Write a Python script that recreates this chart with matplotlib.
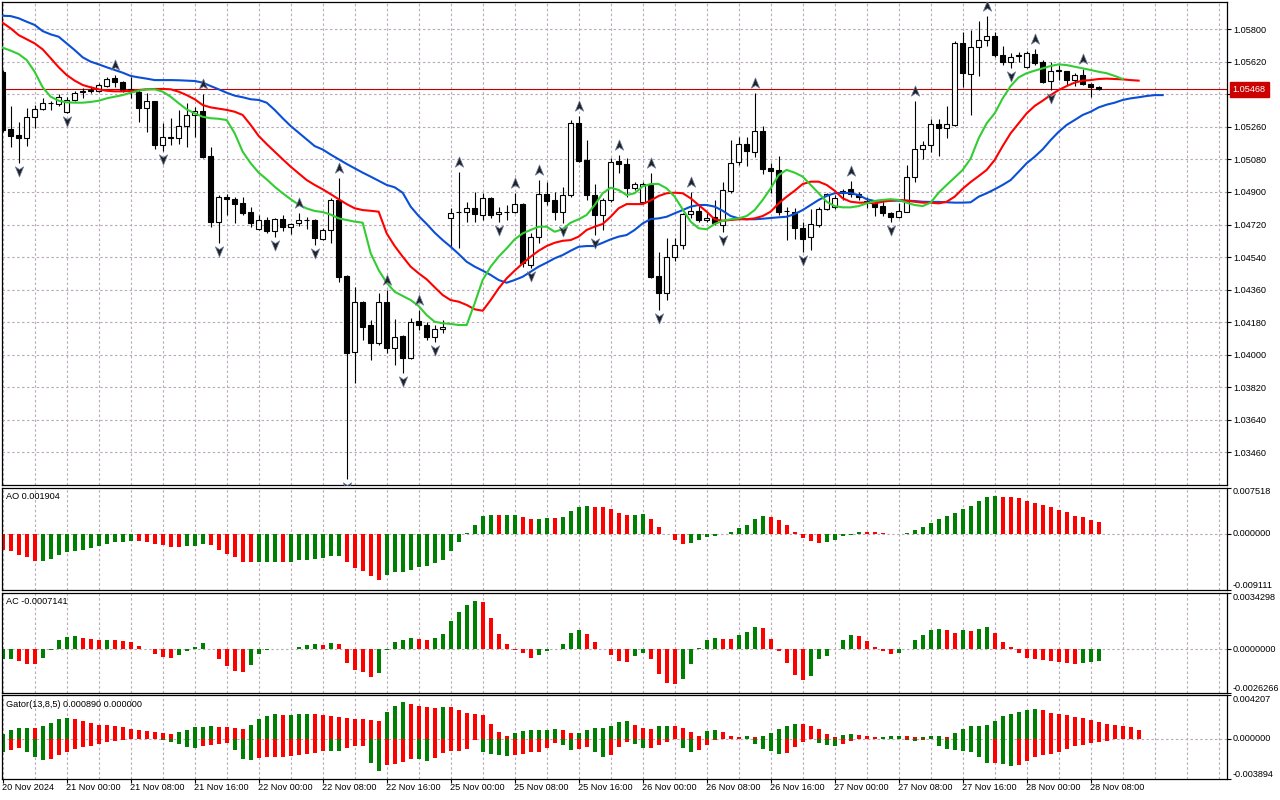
import numpy as np
import matplotlib
matplotlib.use("Agg")
import matplotlib.pyplot as plt
from matplotlib.path import Path
from matplotlib.transforms import offset_copy, blended_transform_factory

plt.rcParams['font.family'] = ['Liberation Sans', 'DejaVu Sans']
plt.rcParams['font.size'] = 6.6

# EURUSD H1, 20 Nov 16:00 .. 28 Nov 09:00 (one entry per bar)
opens = [1.05564, 1.05247, 1.05215, 1.05197, 1.05316, 1.05357, 1.05391, 1.05387, 1.05344, 1.05409,
         1.05455, 1.05459, 1.05460, 1.05486, 1.05529, 1.05507, 1.05468, 1.05455, 1.05363, 1.05403,
         1.05160, 1.05200, 1.05200, 1.05267, 1.05326, 1.05348, 1.05099, 1.04736, 1.04870, 1.04861,
         1.04837, 1.04788, 1.04694, 1.04745, 1.04686, 1.04749, 1.04708, 1.04727, 1.04745, 1.04745,
         1.04638, 1.04690, 1.04856, 1.04435, 1.04013, 1.04290, 1.04164, 1.04066, 1.04290, 1.04035,
         1.04103, 1.03980, 1.04186, 1.04164, 1.04099, 1.04140, 1.04754, 1.04788, 1.04788, 1.04810,
         1.04773, 1.04865, 1.04778, 1.04788, 1.04788, 1.04833, 1.04496, 1.04649, 1.04887, 1.04856,
         1.04791, 1.04883, 1.05280, 1.05077, 1.04883, 1.04773, 1.04856, 1.05071, 1.05055, 1.04920,
         1.04846, 1.04939, 1.04435, 1.04343, 1.04539, 1.04605, 1.04776, 1.04795, 1.04745, 1.04760,
         1.04717, 1.04907, 1.05067, 1.05165, 1.05123, 1.05237, 1.05031, 1.05022, 1.04795, 1.04791,
         1.04699, 1.04649, 1.04717, 1.04804, 1.04819, 1.04893, 1.04915, 1.04887, 1.04850, 1.04837,
         1.04822, 1.04782, 1.04763, 1.04791, 1.04981, 1.05136, 1.05158, 1.05274, 1.05256, 1.05271,
         1.05726, 1.05553, 1.05700, 1.05741, 1.05763, 1.05658, 1.05621, 1.05652, 1.05593, 1.05663,
         1.05619, 1.05514, 1.05569, 1.05571, 1.05519, 1.05545, 1.05497, 1.05481]
highs = [1.05575, 1.05376, 1.05289, 1.05363, 1.05381, 1.05418, 1.05403, 1.05440, 1.05424, 1.05460,
         1.05474, 1.05486, 1.05501, 1.05538, 1.05547, 1.05516, 1.05538, 1.05468, 1.05446, 1.05405,
         1.05283, 1.05308, 1.05354, 1.05391, 1.05368, 1.05442, 1.05151, 1.04883, 1.04889, 1.04874,
         1.04874, 1.04819, 1.04773, 1.04763, 1.04754, 1.04773, 1.04730, 1.04782, 1.04760, 1.04749,
         1.04699, 1.04865, 1.04976, 1.04439, 1.04376, 1.04297, 1.04192, 1.04340, 1.04358, 1.04196,
         1.04109, 1.04201, 1.04247, 1.04182, 1.04164, 1.04192, 1.04810, 1.05012, 1.04846, 1.04902,
         1.04893, 1.04874, 1.04819, 1.04828, 1.04896, 1.04837, 1.04671, 1.04966, 1.04957, 1.04902,
         1.04929, 1.05298, 1.05320, 1.05187, 1.04944, 1.04865, 1.05086, 1.05104, 1.05086, 1.04957,
         1.04957, 1.05003, 1.04570, 1.04644, 1.04644, 1.04782, 1.04902, 1.04822, 1.04782, 1.04856,
         1.04957, 1.05187, 1.05206, 1.05206, 1.05446, 1.05265, 1.05059, 1.05099, 1.04819, 1.04810,
         1.04736, 1.04804, 1.04819, 1.04893, 1.04883, 1.04915, 1.04962, 1.04902, 1.04874, 1.04856,
         1.04852, 1.04791, 1.04837, 1.05049, 1.05405, 1.05184, 1.05305, 1.05305, 1.05376, 1.05737,
         1.05787, 1.05796, 1.05846, 1.05874, 1.05787, 1.05708, 1.05667, 1.05676, 1.05680, 1.05689,
         1.05630, 1.05621, 1.05602, 1.05572, 1.05560, 1.05580, 1.05501, 1.05485]
lows = [1.05232, 1.05151, 1.05059, 1.05154, 1.05252, 1.05354, 1.05354, 1.05376, 1.05335, 1.05405,
        1.05418, 1.05446, 1.05455, 1.05479, 1.05482, 1.05455, 1.05418, 1.05289, 1.05233, 1.05138,
        1.05128, 1.05160, 1.05165, 1.05147, 1.05206, 1.05086, 1.04708, 1.04616, 1.04773, 1.04727,
        1.04773, 1.04708, 1.04690, 1.04671, 1.04653, 1.04686, 1.04667, 1.04712, 1.04694, 1.04607,
        1.04634, 1.04616, 1.04404, 1.03312, 1.03842, 1.04081, 1.03971, 1.04054, 1.04008, 1.03943,
        1.03900, 1.03974, 1.04136, 1.04081, 1.04072, 1.04118, 1.04588, 1.04588, 1.04736, 1.04736,
        1.04745, 1.04754, 1.04736, 1.04745, 1.04782, 1.04487, 1.04478, 1.04616, 1.04828, 1.04745,
        1.04730, 1.04874, 1.05067, 1.04856, 1.04662, 1.04690, 1.04846, 1.05007, 1.04874, 1.04911,
        1.04837, 1.04422, 1.04247, 1.04302, 1.04520, 1.04583, 1.04754, 1.04736, 1.04736, 1.04717,
        1.04680, 1.04893, 1.05049, 1.05045, 1.05095, 1.04999, 1.04893, 1.04773, 1.04634, 1.04638,
        1.04570, 1.04579, 1.04708, 1.04800, 1.04804, 1.04856, 1.04870, 1.04856, 1.04810, 1.04767,
        1.04767, 1.04736, 1.04754, 1.04788, 1.04957, 1.05081, 1.05121, 1.05099, 1.05197, 1.05265,
        1.05479, 1.05326, 1.05542, 1.05709, 1.05648, 1.05602, 1.05584, 1.05621, 1.05586, 1.05602,
        1.05505, 1.05464, 1.05519, 1.05492, 1.05486, 1.05492, 1.05424, 1.05466]
closes = [1.05243, 1.05211, 1.05197, 1.05316, 1.05357, 1.05391, 1.05394, 1.05427, 1.05409, 1.05449,
          1.05460, 1.05462, 1.05490, 1.05527, 1.05507, 1.05460, 1.05459, 1.05363, 1.05403, 1.05160,
          1.05206, 1.05204, 1.05267, 1.05326, 1.05348, 1.05095, 1.04736, 1.04870, 1.04859, 1.04833,
          1.04782, 1.04727, 1.04745, 1.04686, 1.04749, 1.04708, 1.04723, 1.04745, 1.04743, 1.04644,
          1.04690, 1.04856, 1.04431, 1.04011, 1.04290, 1.04155, 1.04066, 1.04290, 1.04035, 1.04099,
          1.03980, 1.04182, 1.04164, 1.04099, 1.04140, 1.04151, 1.04782, 1.04789, 1.04810, 1.04776,
          1.04865, 1.04773, 1.04791, 1.04789, 1.04833, 1.04505, 1.04653, 1.04887, 1.04852, 1.04788,
          1.04883, 1.05280, 1.05073, 1.04883, 1.04773, 1.04856, 1.05067, 1.05055, 1.04920, 1.04944,
          1.04944, 1.04431, 1.04343, 1.04539, 1.04605, 1.04776, 1.04795, 1.04745, 1.04758, 1.04727,
          1.04911, 1.05062, 1.05164, 1.05128, 1.05237, 1.05027, 1.05018, 1.04788, 1.04793, 1.04699,
          1.04638, 1.04721, 1.04806, 1.04887, 1.04865, 1.04907, 1.04889, 1.04870, 1.04846, 1.04819,
          1.04782, 1.04763, 1.04795, 1.04981, 1.05136, 1.05158, 1.05274, 1.05256, 1.05274, 1.05726,
          1.05560, 1.05700, 1.05741, 1.05763, 1.05658, 1.05621, 1.05648, 1.05656, 1.05667, 1.05612,
          1.05510, 1.05571, 1.05573, 1.05519, 1.05545, 1.05497, 1.05479, 1.05468]

# Alligator lines (already shifted forward: jaw 8, teeth 5, lips 3 bars)
jaw = [1.05875, 1.05873, 1.05861, 1.05842, 1.05824, 1.05790, 1.05772, 1.05759, 1.05722, 1.05685,
       1.05645, 1.05621, 1.05606, 1.05590, 1.05575, 1.05560, 1.05542, 1.05534, 1.05527, 1.05519,
       1.05519, 1.05519, 1.05518, 1.05516, 1.05514, 1.05505, 1.05486, 1.05468, 1.05449, 1.05433,
       1.05424, 1.05413, 1.05409, 1.05394, 1.05354, 1.05308, 1.05265, 1.05228, 1.05191, 1.05154,
       1.05135, 1.05107, 1.05081, 1.05055, 1.05031, 1.05007, 1.04985, 1.04962, 1.04939, 1.04926,
       1.04896, 1.04819, 1.04767, 1.04723, 1.04675, 1.04634, 1.04597, 1.04557, 1.04514, 1.04487,
       1.04465, 1.04441, 1.04413, 1.04398, 1.04413, 1.04431, 1.04459, 1.04487, 1.04509, 1.04533,
       1.04551, 1.04575, 1.04597, 1.04601, 1.04601, 1.04619, 1.04638, 1.04653, 1.04662, 1.04690,
       1.04726, 1.04750, 1.04754, 1.04763, 1.04782, 1.04800, 1.04819, 1.04828, 1.04828, 1.04819,
       1.04796, 1.04767, 1.04754, 1.04749, 1.04749, 1.04752, 1.04756, 1.04760, 1.04763, 1.04778,
       1.04800, 1.04828, 1.04856, 1.04878, 1.04893, 1.04896, 1.04893, 1.04883, 1.04860, 1.04850,
       1.04852, 1.04852, 1.04852, 1.04852, 1.04850, 1.04846, 1.04845, 1.04845, 1.04843, 1.04841,
       1.04841, 1.04843, 1.04874, 1.04893, 1.04915, 1.04939, 1.04966, 1.05012, 1.05059, 1.05095,
       1.05136, 1.05187, 1.05233, 1.05271, 1.05298, 1.05326, 1.05344, 1.05368, 1.05383, 1.05394,
       1.05409, 1.05418, 1.05424, 1.05431, 1.05436, 1.05436]
teeth = [1.05836, 1.05805, 1.05768, 1.05745, 1.05722, 1.05689, 1.05640, 1.05590, 1.05547, 1.05516,
         1.05492, 1.05479, 1.05468, 1.05460, 1.05457, 1.05457, 1.05459, 1.05464, 1.05468, 1.05470,
         1.05470, 1.05468, 1.05455, 1.05436, 1.05413, 1.05381, 1.05368, 1.05361, 1.05354, 1.05344,
         1.05326, 1.05271, 1.05210, 1.05165, 1.05123, 1.05081, 1.05040, 1.05003, 1.04966, 1.04939,
         1.04915, 1.04888, 1.04860, 1.04833, 1.04810, 1.04800, 1.04796, 1.04791, 1.04671, 1.04601,
         1.04542, 1.04487, 1.04450, 1.04417, 1.04373, 1.04330, 1.04302, 1.04293, 1.04275, 1.04251,
         1.04243, 1.04302, 1.04367, 1.04422, 1.04465, 1.04505, 1.04542, 1.04575, 1.04601, 1.04619,
         1.04630, 1.04634, 1.04653, 1.04690, 1.04708, 1.04723, 1.04763, 1.04810, 1.04833, 1.04833,
         1.04833, 1.04853, 1.04878, 1.04893, 1.04896, 1.04893, 1.04865, 1.04828, 1.04791, 1.04749,
         1.04741, 1.04745, 1.04749, 1.04749, 1.04754, 1.04767, 1.04791, 1.04837, 1.04874, 1.04907,
         1.04944, 1.04957, 1.04957, 1.04939, 1.04907, 1.04865, 1.04846, 1.04841, 1.04841, 1.04837,
         1.04846, 1.04852, 1.04856, 1.04852, 1.04846, 1.04841, 1.04841, 1.04837, 1.04846, 1.04874,
         1.04918, 1.04955, 1.04988, 1.05022, 1.05077, 1.05154, 1.05225, 1.05280, 1.05335, 1.05376,
         1.05405, 1.05436, 1.05464, 1.05486, 1.05505, 1.05516, 1.05519, 1.05525, 1.05527, 1.05525,
         1.05523, 1.05519, 1.05516]
lips = [1.05698, 1.05682, 1.05663, 1.05630, 1.05565, 1.05479, 1.05427, 1.05405, 1.05396, 1.05394,
        1.05394, 1.05398, 1.05405, 1.05418, 1.05427, 1.05436, 1.05449, 1.05460, 1.05468, 1.05468,
        1.05455, 1.05427, 1.05391, 1.05357, 1.05335, 1.05316, 1.05308, 1.05305, 1.05298, 1.05225,
        1.05123, 1.05059, 1.05007, 1.04970, 1.04929, 1.04893, 1.04860, 1.04830, 1.04809, 1.04795,
        1.04789, 1.04775, 1.04754, 1.04745, 1.04736, 1.04730, 1.04561, 1.04468, 1.04398, 1.04348,
        1.04325, 1.04302, 1.04269, 1.04219, 1.04182, 1.04174, 1.04170, 1.04164, 1.04164, 1.04284,
        1.04413, 1.04487, 1.04542, 1.04588, 1.04638, 1.04671, 1.04690, 1.04708, 1.04708, 1.04680,
        1.04694, 1.04730, 1.04749, 1.04773, 1.04828, 1.04893, 1.04924, 1.04911, 1.04883, 1.04893,
        1.04931, 1.04944, 1.04944, 1.04920, 1.04874, 1.04804, 1.04736, 1.04699, 1.04694, 1.04723,
        1.04741, 1.04749, 1.04754, 1.04767, 1.04800, 1.04856, 1.04920, 1.04994, 1.05022, 1.05007,
        1.04985, 1.04939, 1.04893, 1.04846, 1.04822, 1.04815, 1.04815, 1.04822, 1.04837, 1.04850,
        1.04856, 1.04860, 1.04856, 1.04841, 1.04828, 1.04822, 1.04841, 1.04896, 1.04939, 1.04980,
        1.05022, 1.05085, 1.05197, 1.05280, 1.05335, 1.05418, 1.05486, 1.05534, 1.05557, 1.05571,
        1.05584, 1.05597, 1.05606, 1.05602, 1.05593, 1.05584, 1.05575, 1.05565, 1.05557, 1.05542,
        1.05525]

# bars that carry a fractal mark
fractal_up = [14, 25, 37, 42, 48, 52, 57, 64, 67, 72, 77, 81, 86, 94, 106, 114, 123, 129, 135]
fractal_down = [2, 8, 20, 27, 34, 39, 43, 50, 54, 62, 66, 70, 74, 82, 90, 100, 111, 126, 131]

ao = [-0.00258, -0.00285, -0.00338, -0.00381, -0.00436, -0.00434, -0.00403, -0.00338, -0.00301, -0.00274,
      -0.00258, -0.00226, -0.00193, -0.00161, -0.00140, -0.00129, -0.00113, -0.00115, -0.00129, -0.00161,
      -0.00177, -0.00209, -0.00211, -0.00204, -0.00199, -0.00161, -0.00188, -0.00258, -0.00322, -0.00381,
      -0.00462, -0.00464, -0.00451, -0.00450, -0.00449, -0.00450, -0.00449, -0.00430, -0.00419, -0.00403,
      -0.00387, -0.00354, -0.00353, -0.00462, -0.00548, -0.00607, -0.00687, -0.00752, -0.00661, -0.00623,
      -0.00612, -0.00580, -0.00542, -0.00516, -0.00473, -0.00419, -0.00274, -0.00140, 0.00011, 0.00145,
      0.00295, 0.00306, 0.00304, 0.00306, 0.00307, 0.00274, 0.00242, 0.00247, 0.00258, 0.00256,
      0.00274, 0.00371, 0.00435, 0.00451, 0.00435, 0.00433, 0.00403, 0.00338, 0.00306, 0.00311,
      0.00322, 0.00242, 0.00113, 0.00005, -0.00097, -0.00161, -0.00145, -0.00097, -0.00048, -0.00027,
      -0.00005, 0.00032, 0.00097, 0.00145, 0.00242, 0.00295, 0.00274, 0.00226, 0.00145, 0.00032,
      -0.00064, -0.00113, -0.00145, -0.00129, -0.00097, -0.00043, -0.00015, 0.00032, 0.00030, 0.00029,
      0.00016, 0.00005, 0.00001, 0.00011, 0.00064, 0.00113, 0.00183, 0.00242, 0.00290, 0.00338,
      0.00403, 0.00451, 0.00532, 0.00596, 0.00612, 0.00596, 0.00594, 0.00580, 0.00532, 0.00499,
      0.00467, 0.00435, 0.00387, 0.00354, 0.00290, 0.00274, 0.00226, 0.001904]

ac = [-0.000605, -0.000585, -0.000706, -0.000888, -0.000898, -0.000505, -0.000020, 0.000545, 0.000747, 0.000807,
      0.000666, 0.000605, 0.000545, 0.000551, 0.000541, 0.000484, 0.000424, 0.000182, 0.000020, -0.000262,
      -0.000444, -0.000505, -0.000323, -0.000081, 0.000141, 0.000363, -0.000010, -0.000565, -0.000989, -0.001292,
      -0.001352, -0.000928, -0.000262, -0.000020, 0.000040, 0.000030, -0.000010, 0.000121, 0.000262, 0.000323,
      0.000262, 0.000383, 0.000323, -0.000827, -0.001251, -0.001372, -0.001675, -0.001433, -0.000020, 0.000444,
      0.000565, 0.000666, 0.000626, 0.000545, 0.000686, 0.000928, 0.001715, 0.002260, 0.002684, 0.002926,
      0.002866, 0.001897, 0.000928, 0.000323, -0.000020, -0.000202, -0.000505, -0.000323, -0.000081, 0.000020,
      0.000323, 0.000989, 0.001170, 0.000928, 0.000444, 0.000020, -0.000323, -0.000686, -0.000747, -0.000383,
      -0.000202, -0.000565, -0.001473, -0.002018, -0.002079, -0.001776, -0.000868, 0.000061, 0.000565, 0.000686,
      0.000626, 0.000620, 0.000868, 0.001049, 0.001352, 0.001292, 0.000626, -0.000081, -0.000807, -0.001534,
      -0.001836, -0.001594, -0.000605, -0.000383, 0.000040, 0.000565, 0.000868, 0.000807, 0.000505, 0.000141,
      -0.000081, -0.000262, -0.000242, 0.000010, 0.000565, 0.000868, 0.001170, 0.001231, 0.001170, 0.000989,
      0.001170, 0.001110, 0.001231, 0.001352, 0.000989, 0.000444, 0.000141, -0.000202, -0.000505, -0.000585,
      -0.000626, -0.000706, -0.000747, -0.000807, -0.000868, -0.000807, -0.000747, -0.0007141]

# Gator: upper = |jaw - teeth|, lower = |teeth - lips| (drawn below zero)
gator_upper = [0.000449, 0.000803, 0.000995, 0.001011, 0.000995, 0.001220, 0.001573, 0.001958, 0.002054, 0.001958,
               0.001766, 0.001573, 0.001380, 0.001364, 0.001188, 0.001091, 0.000899, 0.000803, 0.000706, 0.000610,
               0.000514, 0.000498, 0.000610, 0.000803, 0.001091, 0.001107, 0.001188, 0.001172, 0.001091, 0.000995,
               0.000979, 0.001380, 0.001958, 0.002247, 0.002440, 0.002327, 0.002343, 0.002359, 0.002440, 0.002424,
               0.002343, 0.002247, 0.002151, 0.002054, 0.001958, 0.001942, 0.001862, 0.001766, 0.002632, 0.003210,
               0.003595, 0.003403, 0.003210, 0.003114, 0.003017, 0.003114, 0.003098, 0.002825, 0.002536, 0.002440,
               0.002343, 0.001477, 0.000610, 0.000225, 0.000514, 0.000706, 0.000803, 0.000819, 0.000835, 0.000899,
               0.000803, 0.000514, 0.000530, 0.000803, 0.000995, 0.001011, 0.001284, 0.001669, 0.001766, 0.001380,
               0.000995, 0.000899, 0.001188, 0.001284, 0.001188, 0.000995, 0.000610, 0.000225, 0.000706, 0.000803,
               0.000610, 0.000225, 0.000128, 0.000225, 0.000128, 0.000225, 0.000514, 0.000899, 0.001188, 0.001477,
               0.001461, 0.001284, 0.000899, 0.000417, 0.000128, 0.000321, 0.000417, 0.000401, 0.000225, 0.000128,
               0.000144, 0.000225, 0.000241, 0.000225, 0.000128, 0.000144, 0.000225, 0.000241, 0.000128, 0.000514,
               0.000899, 0.001188, 0.001204, 0.001380, 0.001766, 0.002247, 0.002440, 0.002632, 0.002825, 0.002921,
               0.002825, 0.002536, 0.002440, 0.002343, 0.002151, 0.002054, 0.001862, 0.001669, 0.001477, 0.001380,
               0.001284, 0.001091, 0.000890]
gator_lower = [0.001284, 0.001124, 0.000931, 0.001316, 0.001798, 0.002087, 0.001990, 0.001605, 0.001316, 0.001027,
               0.000835, 0.000738, 0.000546, 0.000353, 0.000257, 0.000161, 0.000064, 0.000032, 0.000016, 0.000010,
               0.000161, 0.000353, 0.000546, 0.000835, 0.000851, 0.000738, 0.000642, 0.000546, 0.000449, 0.001124,
               0.001990, 0.002087, 0.001894, 0.001798, 0.001782, 0.001766, 0.001701, 0.001605, 0.001509, 0.001412,
               0.001156, 0.001172, 0.001188, 0.000931, 0.000738, 0.000722, 0.002375, 0.003146, 0.002568, 0.002440,
               0.002247, 0.001990, 0.002006, 0.002183, 0.001894, 0.001412, 0.001220, 0.001204, 0.001027, 0.000161,
               0.001316, 0.001509, 0.001605, 0.001701, 0.001605, 0.001509, 0.001316, 0.001300, 0.000931, 0.000449,
               0.000642, 0.001124, 0.001027, 0.000835, 0.001316, 0.001798, 0.001605, 0.000835, 0.000353, 0.000546,
               0.000931, 0.000915, 0.000642, 0.000353, 0.000016, 0.000931, 0.001316, 0.001124, 0.000642, 0.000161,
               0.000010, 0.000006, 0.000003, 0.000002, 0.000546, 0.001027, 0.001220, 0.001509, 0.001412, 0.000835,
               0.000353, 0.000016, 0.000449, 0.000642, 0.000738, 0.000546, 0.000257, 0.000048, 0.000039, 0.000032,
               0.000026, 0.000019, 0.000010, 0.000161, 0.000177, 0.000161, 0.000064, 0.000738, 0.001027, 0.001124,
               0.001220, 0.001316, 0.001798, 0.002375, 0.002359, 0.002408, 0.002664, 0.002568, 0.002183, 0.001798,
               0.001605, 0.001509, 0.001316, 0.001027, 0.000738, 0.000642, 0.000449, 0.000353, 0.000257, 0.000064,
               0.000000]

price_ticks = [1.03460, 1.03640, 1.03820, 1.04000, 1.04180, 1.04360, 1.04540,
               1.04720, 1.04900, 1.05080, 1.05260, 1.05440, 1.05620, 1.05800]
time_labels = ["20 Nov 2024", "21 Nov 00:00", "21 Nov 08:00", "21 Nov 16:00", "22 Nov 00:00",
               "22 Nov 08:00", "22 Nov 16:00", "25 Nov 00:00", "25 Nov 08:00", "25 Nov 16:00",
               "26 Nov 00:00", "26 Nov 08:00", "26 Nov 16:00", "27 Nov 00:00", "27 Nov 08:00",
               "27 Nov 16:00", "28 Nov 00:00", "28 Nov 08:00"]
label_every = 8   # one time label per 8 bars

GREEN = '#008000'
RED = '#ff0000'
GRID = '#b9a9b9'
DASH = (0, (2.2, 2.2))


def trend_colors(vals, first):
    # green when the value grows against the bar before, red otherwise
    cols = [first]
    for a, b in zip(vals[:-1], vals[1:]):
        cols.append(GREEN if b > a else RED)
    return cols


W, H = 1280, 800
fig = plt.figure(figsize=(W / 100, H / 100), dpi=100)


def px_axes(left, top, right, bottom):
    return fig.add_axes([left / W, 1 - bottom / H, (right - left) / W, (bottom - top) / H])


ax = px_axes(2, 2, 1227.3, 485)
ax_ao = px_axes(2, 487.5, 1227.3, 590)
ax_ac = px_axes(2, 592.7, 1227.3, 692.7)
ax_gt = px_axes(2, 695.3, 1227.3, 779)
all_axes = [ax, ax_ao, ax_ac, ax_gt]

x_lo, x_hi = -0.084, 153.08
for a in all_axes:
    a.set_xlim(x_lo, x_hi)
    for s in a.spines.values():
        s.set_linewidth(0.9)
        s.set_color('black')
    for g in range(0, 153, 4):
        a.axvline(g, color=GRID, lw=0.8, ls=DASH, zorder=0)
    a.set_xticks([])

# ---- price window ----
x = np.arange(len(closes))
o = np.array(opens)
c = np.array(closes)
ax.set_ylim(1.03279, 1.05951)
for p in price_ticks:
    ax.axhline(p, color=GRID, lw=0.8, ls=DASH, zorder=0)

ax.vlines(x, lows, highs, color='black', lw=0.8, zorder=3)
body_lo = np.minimum(o, c)
body_h = np.abs(c - o)
fills = ['white' if cc >= oo else 'black' for oo, cc in zip(o, c)]
ax.bar(x, body_h, bottom=body_lo, width=0.6, color=fills, edgecolor='black',
       linewidth=0.8, zorder=4)

ax.plot(np.arange(len(jaw)), jaw, color='#0b4fd6', lw=1.5, zorder=5)
ax.plot(np.arange(len(teeth)), teeth, color='#ff0000', lw=1.5, zorder=5)
ax.plot(np.arange(len(lips)), lips, color='#32cd32', lw=1.5, zorder=5)

last = closes[-1]
ax.axhline(last, color='#c00000', lw=0.8, zorder=2)

up_path = Path([(0, 1), (0.75, -0.85), (0, -0.35), (-0.75, -0.85), (0, 1)],
               [Path.MOVETO, Path.LINETO, Path.LINETO, Path.LINETO, Path.CLOSEPOLY])
down_path = Path([(0, -1), (0.75, 0.85), (0, 0.35), (-0.75, 0.85), (0, -1)],
                 [Path.MOVETO, Path.LINETO, Path.LINETO, Path.LINETO, Path.CLOSEPOLY])
tr_up = offset_copy(ax.transData, fig=fig, x=0, y=10, units='dots')
tr_dn = offset_copy(ax.transData, fig=fig, x=0, y=-8, units='dots')
ax.plot(fractal_up, [highs[i] for i in fractal_up], ls='none', marker=up_path, ms=8,
        mfc='#222222', mec='#6d7fa8', mew=0.5, transform=tr_up, zorder=6, clip_on=True)
ax.plot(fractal_down, [lows[i] for i in fractal_down], ls='none', marker=down_path, ms=8,
        mfc='#222222', mec='#6d7fa8', mew=0.5, transform=tr_dn, zorder=6, clip_on=True)

# the level next to the live price sits under the price box, so its label is left out
ax.yaxis.tick_right()
ax.set_yticks(price_ticks)
ax.set_yticklabels([f"{p:.5f}" if abs(p - closes[-1]) > 0.0004 else "" for p in price_ticks])
ax.tick_params(axis='y', length=3, width=0.8, pad=1.5, direction='out')

right_tr = blended_transform_factory(ax.transAxes, ax.transData)
ax.text(1.00445, last, f"{last:.5f}", transform=right_tr, ha='left', va='center',
        color='white', zorder=10, clip_on=False,
        bbox=dict(boxstyle='square,pad=0.3', fc='#cc0000', ec='#cc0000'))

# ---- indicator windows ----
def indicator_scale(a, lo, hi, fmt):
    a.set_ylim(lo, hi)
    a.axhline(0, color=GRID, lw=0.8, ls=DASH, zorder=0)
    a.yaxis.tick_right()
    a.set_yticks([lo, 0, hi])
    a.tick_params(axis='y', length=3, width=0.8, direction='out', labelright=False)
    tr = blended_transform_factory(a.transAxes, a.transData)
    a.text(1.00445, hi, fmt.format(hi), transform=tr, ha='left', va='top')
    a.text(1.00445, 0, fmt.format(0.0), transform=tr, ha='left', va='center')
    a.text(1.00445, lo, fmt.format(lo), transform=tr, ha='left', va='bottom')


ax_ao.bar(np.arange(len(ao)), ao, width=0.5, color=trend_colors(ao, RED), linewidth=0, zorder=2)
indicator_scale(ax_ao, -0.009111, 0.007518, "{:.6f}")

ax_ac.bar(np.arange(len(ac)), ac, width=0.5, color=trend_colors(ac, GREEN), linewidth=0, zorder=2)
indicator_scale(ax_ac, -0.0026266, 0.0034298, "{:.7f}")

ax_gt.bar(np.arange(len(gator_upper)), gator_upper, width=0.5,
          color=trend_colors(gator_upper, GREEN), linewidth=0, zorder=2)
ax_gt.bar(np.arange(len(gator_lower)), -np.array(gator_lower), width=0.5,
          color=trend_colors(gator_lower, GREEN), linewidth=0, zorder=2)
indicator_scale(ax_gt, -0.003894, 0.004207, "{:.6f}")

fig.text(6 / W, 1 - 496.7 / H, f"AO {ao[-1]:.6f}", ha='left', va='center')
fig.text(6 / W, 1 - 601.5 / H, f"AC {ac[-1]:.7f}", ha='left', va='center')
fig.text(6 / W, 1 - 704.5 / H,
         f"Gator(13,8,5) {gator_upper[-1]:.6f} {gator_lower[-1]:.6f}", ha='left', va='center')

# time axis under the last window
label_pos = [k * label_every for k in range(len(time_labels))]
ax_gt.set_xticks(label_pos)
ax_gt.tick_params(axis='x', length=3, width=0.8, direction='out', labelbottom=False)
bottom_tr = blended_transform_factory(ax_gt.transData, fig.transFigure)
for pos, lab in zip(label_pos, time_labels):
    ax_gt.text(pos - 0.12, 1 - 788 / H, lab, transform=bottom_tr, ha='left', va='center',
               clip_on=False)

fig.savefig("out.png", dpi=100)
